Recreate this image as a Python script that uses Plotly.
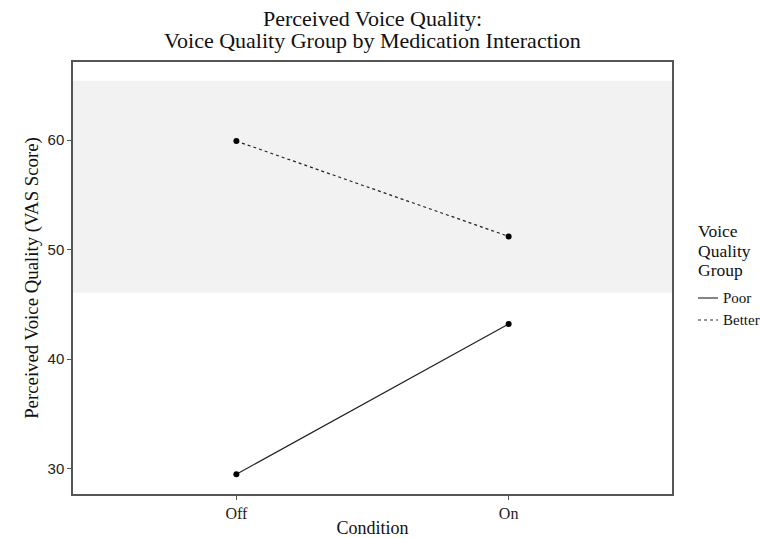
import plotly.graph_objects as go

conditions = ["Off", "On"]
poor = [29.5, 43.2]
better = [59.9, 51.2]
band = [46.05, 65.4]
y_ticks = [30, 40, 50, 60]
title_lines = ["Perceived Voice Quality:", "Voice Quality Group by Medication Interaction"]
legend_title = ["Voice", "Quality", "Group"]
group_names = ["Poor", "Better"]
group_dash = ["solid", "dot"]

W, H = 760, 538
PL, PR, PT, PB = 73, 672, 62, 494
PW, PH = PR - PL, PB - PT


def px(wx):
    return (wx - PL) / PW


def py(wy):
    return (PB - wy) / PH


fig = go.Figure()

for name, vals, dash in zip(group_names, [poor, better], group_dash):
    fig.add_trace(go.Scatter(x=conditions, y=vals, mode="lines+markers", name=name,
                             line=dict(color="#222222", width=1.2, dash=dash),
                             marker=dict(color="black", size=6), showlegend=False))

fig.add_shape(type="rect", xref="paper", yref="y", x0=0, x1=1, y0=band[0], y1=band[1],
              fillcolor="#f2f2f2", line=dict(width=0), layer="below")

# title (two lines, tight spacing)
for txt, wy in zip(title_lines, [18, 41]):
    fig.add_annotation(text=txt, xref="paper", yref="paper", x=0.5, y=py(wy),
                       xanchor="center", yanchor="middle", showarrow=False,
                       font=dict(family="Liberation Serif", size=22, color="#111111"))

# legend (drawn as guide)
for txt, wy in zip(legend_title, [231, 251, 270]):
    fig.add_annotation(text=txt, xref="paper", yref="paper", x=px(696), y=py(wy),
                       xanchor="left", yanchor="middle", showarrow=False,
                       font=dict(family="Liberation Serif", size=17.5, color="#111111"))
for name, dash, wy in zip(group_names, group_dash, [298, 320]):
    fig.add_shape(type="line", xref="paper", yref="paper", x0=px(698), x1=px(718),
                  y0=py(wy), y1=py(wy), line=dict(color="#333333", width=1.2, dash=dash))
    fig.add_annotation(text=name, xref="paper", yref="paper", x=px(721), y=py(wy),
                       xanchor="left", yanchor="middle", showarrow=False,
                       font=dict(family="Liberation Serif", size=15, color="#111111"))

fig.update_layout(
    width=W, height=H,
    margin=dict(l=PL, r=W - PR, t=PT, b=H - PB, autoexpand=False),
    paper_bgcolor="white", plot_bgcolor="white",
    font=dict(family="Liberation Serif", color="#111111"),
    showlegend=False,
)

fig.update_xaxes(type="category", range=[-0.6, 1.6], showgrid=False, zeroline=False, automargin=False,
                 showline=True, mirror=True, linecolor="#555555", linewidth=1.5,
                 ticks="outside", ticklen=4, tickcolor="#555555",
                 tickfont=dict(family="Liberation Serif", size=16, color="#222222"),
                 title=dict(text="Condition", font=dict(family="Liberation Serif", size=18), standoff=2))
fig.update_yaxes(range=[27.69, 67.12], tickvals=y_ticks, showgrid=False, zeroline=False, automargin=False,
                 showline=True, mirror=True, linecolor="#555555", linewidth=1.5,
                 ticks="outside", ticklen=4, tickcolor="#555555",
                 tickfont=dict(family="Liberation Sans", size=15, color="#222222"),
                 title=dict(text="Perceived Voice Quality (VAS Score)",
                            font=dict(family="Liberation Serif", size=18.8), standoff=4))

fig.write_html("out.html", config={"displayModeBar": False},
               post_script="document.body.style.margin='0';document.body.style.overflow='hidden';")
